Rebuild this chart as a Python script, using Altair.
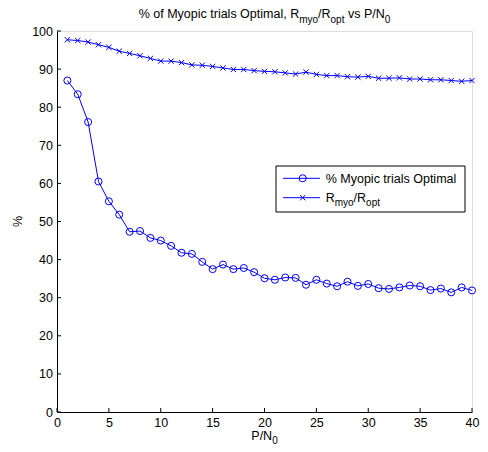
import altair as alt
import pandas as pd

# ---------------- data ----------------
P_N0 = list(range(1, 41))
myopic_pct = [87.0, 83.4, 76.1, 60.5, 55.3, 51.8, 47.3, 47.5, 45.7, 45.0,
              43.6, 41.8, 41.5, 39.4, 37.5, 38.7, 37.5, 37.8, 36.7, 35.1,
              34.7, 35.3, 35.2, 33.4, 34.7, 33.7, 33.0, 34.2, 33.1, 33.6,
              32.5, 32.3, 32.7, 33.2, 33.0, 32.0, 32.4, 31.4, 32.7, 31.9]
r_ratio = [97.7, 97.5, 97.1, 96.4, 95.7, 94.7, 94.1, 93.5, 92.8, 92.1,
           92.1, 91.7, 91.1, 91.0, 90.7, 90.3, 89.9, 89.9, 89.6, 89.4,
           89.3, 89.0, 88.7, 89.2, 88.6, 88.3, 88.3, 88.0, 87.9, 88.1,
           87.6, 87.6, 87.7, 87.4, 87.4, 87.2, 87.2, 87.0, 86.8, 87.0]
x_ticks = [0, 5, 10, 15, 20, 25, 30, 35, 40]
y_ticks = [0, 10, 20, 30, 40, 50, 60, 70, 80, 90, 100]

# ---------------- style ----------------
FONT = "Liberation Sans"
BLUE = "#0000ff"
W, H = 415, 381
FS = 12.5
SUB = 10
SUBDY = 5
XMARK = "M-1,-1L1,1M-1,1L1,-1"

ARIAL = {" ": 278, "%": 889, "/": 278, ",": 278, "0": 556,
         "M": 833, "O": 778, "R": 722, "P": 667, "N": 722,
         "a": 556, "c": 500, "f": 278, "i": 222, "l": 222, "m": 833,
         "o": 556, "p": 556, "r": 333, "s": 500, "t": 278, "v": 500,
         "y": 500, "e": 556, "n": 556}


def tw(s, size):
    return sum(ARIAL.get(c, 556) for c in s) * size / 1000.0


def rich(segs, x, y, anchor="left"):
    total = sum(tw(t, s) for t, s, d in segs)
    cx = x - total / 2.0 if anchor == "center" else x
    layers = []
    for t, s, d in segs:
        lead = len(t) - len(t.lstrip(" "))
        txt = t.strip(" ")
        px = cx + tw(" " * lead, s)
        layers.append(
            alt.Chart(pd.DataFrame({"t": [txt]}))
            .mark_text(align="left", baseline="alphabetic", font=FONT,
                       fontSize=s, color="black")
            .encode(x=alt.value(px), y=alt.value(y + d), text="t:N")
        )
        cx += tw(t, s)
    return layers


df = pd.DataFrame({"x": P_N0, "m": myopic_pct, "r": r_ratio})

XS = alt.Scale(domain=[0, 40], nice=False, zero=False)
YS = alt.Scale(domain=[0, 100], nice=False, zero=False)
AXX = alt.Axis(values=x_ticks, ticks=False, tickSize=0, labelPadding=4,
               labelFlush=False, labelOverlap=False, grid=False,
               domainColor="black", labelColor="black", labelFont=FONT,
               labelFontSize=FS, title=None)
AXY = alt.Axis(values=y_ticks, ticks=False, tickSize=0, labelPadding=4.5,
               labelFlush=False, labelOverlap=False, grid=False,
               domainColor="black", labelColor="black", labelFont=FONT,
               labelFontSize=FS, title=None)


def X(f):
    return alt.X(f, scale=XS, axis=AXX, title=None)


def Y(f):
    return alt.Y(f, scale=YS, axis=AXY, title=None)


base = alt.Chart(df)
line_m = base.mark_line(color=BLUE, strokeWidth=1).encode(x=X("x:Q"), y=Y("m:Q"))
pts_m = base.mark_point(shape="circle", filled=False, color=BLUE, size=50,
                        strokeWidth=1, opacity=1).encode(x=X("x:Q"), y=Y("m:Q"))
line_r = base.mark_line(color=BLUE, strokeWidth=1).encode(x=X("x:Q"), y=Y("r:Q"))
pts_r = base.mark_point(shape=XMARK, filled=False, color=BLUE, size=28,
                        strokeWidth=1, opacity=1).encode(x=X("x:Q"), y=Y("r:Q"))

# inward ticks
xt = alt.Chart(pd.DataFrame({"v": x_ticks})).mark_rule(color="black", strokeWidth=1).encode(
    x=X("v:Q"), y=alt.value(H), y2=alt.value(H - 4))
yt = alt.Chart(pd.DataFrame({"v": y_ticks})).mark_rule(color="black", strokeWidth=1).encode(
    y=Y("v:Q"), x=alt.value(0), x2=alt.value(4))

# legend
LX0, LX1, LY0, LY1 = 219, 408, 135, 181
one = pd.DataFrame({"a": [0]})
leg_box = alt.Chart(one).mark_rect(fill="white", stroke="black", strokeWidth=1).encode(
    x=alt.value(LX0), x2=alt.value(LX1), y=alt.value(LY0), y2=alt.value(LY1))
leg_l1 = alt.Chart(one).mark_rule(color=BLUE, strokeWidth=1).encode(
    x=alt.value(226), x2=alt.value(263), y=alt.value(147.3))
leg_p1 = alt.Chart(one).mark_point(shape="circle", filled=False, color=BLUE, size=50,
                                   strokeWidth=1, opacity=1).encode(
    x=alt.value(245.7), y=alt.value(147.3))
leg_l2 = alt.Chart(one).mark_rule(color=BLUE, strokeWidth=1).encode(
    x=alt.value(226), x2=alt.value(263), y=alt.value(166.7))
leg_p2 = alt.Chart(one).mark_point(shape=XMARK, filled=False, color=BLUE, size=28,
                                   strokeWidth=1, opacity=1).encode(
    x=alt.value(245.7), y=alt.value(166.7))

texts = []
texts += rich([("% Myopic trials Optimal", FS, 0)], 268.7, 152.0)
texts += rich([("R", FS, 0), ("myo", SUB, 4.5), ("/R", FS, 0), ("opt", SUB, 4.5)], 268.7, 170.7)
# title
texts += rich([("% of Myopic trials Optimal, R", FS, 0), ("myo", SUB, SUBDY),
               ("/R", FS, 0), ("opt", SUB, SUBDY), (" vs P/N", FS, 0), ("0", SUB, SUBDY)],
              W / 2.0, -13.5, anchor="center")
# x axis title
texts += rich([("P/N", FS, 0), ("0", SUB, 3.5)], W / 2.0, 409, anchor="center")
# y axis title
ytitle = alt.Chart(pd.DataFrame({"t": ["%"]})).mark_text(
    angle=270, align="center", baseline="middle", font=FONT, fontSize=FS, color="black"
).encode(x=alt.value(-38.7), y=alt.value(H / 2.0), text="t:N")

chart = alt.layer(
    line_m, line_r, pts_m, pts_r, xt, yt,
    leg_box, leg_l1, leg_p1, leg_l2, leg_p2, ytitle, *texts
).properties(
    width=W, height=H,
    padding={"left": 49, "top": 23, "right": 8, "bottom": 32},
    autosize=alt.AutoSizeParams(type="none"),
).configure_view(stroke=None).configure(background="white")

chart.save("out.html", embed_options={"renderer": "svg", "actions": False})
